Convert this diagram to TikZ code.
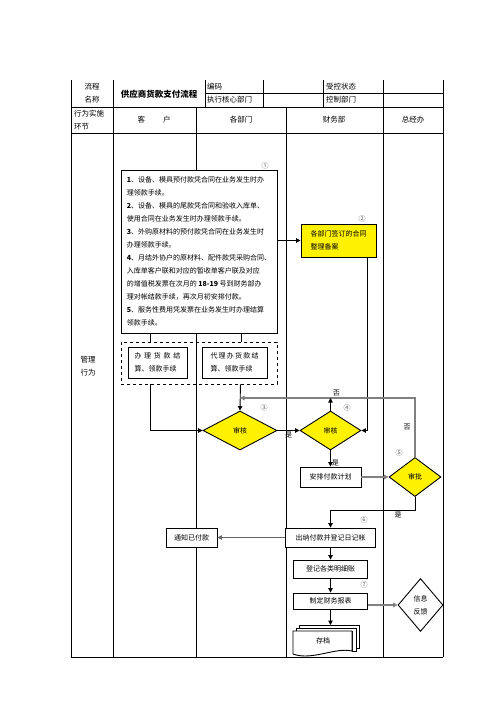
\documentclass[tikz,border=0pt]{standalone}
\usepackage{fontspec}
\setmainfont{Noto Sans CJK SC}
\usetikzlibrary{positioning, calc, shapes.geometric, arrows.meta}

\begin{document}
\begin{tikzpicture}[x=1pt,y=-1pt,
  every node/.style={inner sep=1pt, font=\fontsize{7}{13}\selectfont},
  hdr/.style={font=\fontsize{7.5}{13.5}\selectfont},
  box/.style={draw, fill=white, inner sep=0pt, line width=0.9pt},
  ybox/.style={box, fill=yellow},
  dia/.style={diamond, draw, fill=yellow, inner sep=0pt, line width=0.9pt},
  num/.style={font=\fontsize{7}{8}\selectfont, text=black!65},
  flow/.style={-{Triangle[length=4.5pt,width=4.5pt]}, line width=0.9pt},
  back/.style={flow, draw=black!50, line width=1.6pt},
  grid/.style={line width=1pt}]
  \useasboundingbox (0,0) rectangle (496,702);
  \draw[grid] (71,80) -- (71,657) (113,80) -- (113,657) (383,80) -- (383,657) (443,80) -- (443,657);
  \draw[grid] (205,80) -- (205,107) (263,80) -- (263,107) (323,80) -- (323,107);
  \draw[grid] (196,107) -- (196,657) (286,107) -- (286,657);
  \draw[grid] (205,93.5) -- (443,93.5) (71,107) -- (443,107) (71,133) -- (443,133) (71,657) -- (443,657);

  \node[hdr, align=center] (procname) at (92,93) {流程\\名称};
  \node[font=\fontsize{8.5}{10}\selectfont\bfseries] (title) at (159,94) {供应商货款支付流程};
  \node[hdr, anchor=west] (code) at (206,86.5) {编码};
  \node[hdr, anchor=west] (exec) at (206,100) {执行核心部门};
  \node[hdr, anchor=west] (state) at (325,86.5) {受控状态};
  \node[hdr, anchor=west] (ctrl) at (325,100) {控制部门};
  \node[hdr, anchor=west, align=left] (stage) at (73,120) {行为实施\\环节};
  \node[hdr] (client) at (154,120) {客\hspace{18pt}户};
  \node[hdr] (depts) at (241,120) {各部门};
  \node[hdr] (finance) at (334,120) {财务部};
  \node[hdr] (gmo) at (413,120) {总经办};
  \node[hdr, align=center] (mgmt) at (88,366) {管理\\行为};

  \node[box, minimum width=156, minimum height=163, align=left] (rules) at (199,251.5) {%
    \textbf{1}、设备、模具预付款凭合同在业务发生时办\\
    理领款手续。\\
    \textbf{2}、设备、模具的尾款凭合同和验收入库单、\\
    使用合同在业务发生时办理领款手续。\\
    \textbf{3}、外购原材料的预付款凭合同在业务发生时\\
    办理领款手续。\\
    \textbf{4}、月结外协户的原材料、配件款凭采购合同、\\
    入库单客户联和对应的暂收单客户联及对应\\
    的增值税发票在次月的 \textbf{18-19} 号到财务部办\\
    理对帐结款手续，再次月初安排付款。\\
    \textbf{5}、服务性费用凭发票在业务发生时办理结算\\
    领款手续。};
  \node[ybox, minimum width=75, minimum height=33, align=left] (file) at (338.5,240.5) {各部门签订的合同\\整理备案};
  \node[draw, dashed, line width=0.9pt, minimum width=156, minimum height=42, inner sep=0pt] (group) at (199,363) {};
  \node[box, minimum width=59, minimum height=31, align=left] (selfpay) at (157.5,362.5) {\makebox[46pt]{办\hfill 理\hfill 货\hfill 款\hfill 结}\\算、领款手续};
  \node[box, minimum width=65, minimum height=31, align=left] (agentpay) at (234.5,362.5) {\makebox[48pt]{代\hfill 理\hfill 办\hfill 货\hfill 款\hfill 结}\\算、领款手续};

  \node[dia, minimum width=74, minimum height=39] (check1) at (240,430.5) {审核};
  \node[dia, minimum width=61, minimum height=39] (check2) at (330.5,430.5) {审核};
  \node[box, minimum width=61, minimum height=20] (plan) at (330.5,477) {安排付款计划};
  \node[dia, minimum width=52, minimum height=39] (approve) at (415,477) {审批};
  \node[box, minimum width=90, minimum height=19] (pay) at (330.5,537.5) {出纳付款并登记日记帐};
  \node[box, minimum width=51, minimum height=19] (notify) at (191.5,537.5) {通知已付款};
  \node[box, minimum width=74, minimum height=18] (ledger) at (330.5,569) {登记各类明细账};
  \node[box, minimum width=74, minimum height=16] (report) at (330.5,601) {制定财务报表};
  \node[diamond, draw, fill=white, line width=0.9pt, inner sep=0pt, minimum width=45, minimum height=53, align=center] (feedback) at (420.5,605) {信息\\反馈};

  \draw[line width=0.9pt, fill=white] (299,625) -- (359,625) -- (359,648) -- (352,648) -- (352,628) -- (299,628) -- cycle;
  \draw[line width=0.9pt, fill=white] (296,628) -- (356,628) -- (356,651) -- (352,651) -- (352,631) -- (296,631) -- cycle;
  \draw[line width=0.9pt, fill=white] (293,631) -- (352,631) -- (352,651) .. controls (335,647) and (312,661) .. (293,654) -- cycle;
  \node (archive) at (323,641) {存档};
  \coordinate (stack) at (330.5,625);
  \coordinate (merge) at (240,398);

  \draw[line width=0.9pt] ([xshift=30pt]rules.south west) -- ([xshift=30pt]group.north west);
  \draw[line width=0.9pt] ([xshift=-36pt]rules.south east) -- ([xshift=-36pt]group.north east);
  \draw[flow] (rules.east |- file.west) -- (file.west);
  \draw[flow] ([xshift=30pt]group.south west) |- (check1.west);
  \draw[flow] ([xshift=-37pt]group.south east) -- (check1.north);
  \draw[flow] (check1.east) -- node[below] {是} (check2.west);
  \draw[flow] ([xshift=-9pt]file.south east) |- (check2.east);
  \draw[back] (approve.north) -- (approve.north |- merge) -- node[pos=0.45, above] {否} (merge);
  \node (no2) at (407,427) {否};
  \draw[flow] (check2.north) -- (check2.north |- merge);
  \draw[flow] (check2.south) -- node[pos=0.8, right] {是} (plan.north);
  \draw[back] (plan.east) -- (approve.west);
  \draw[flow] (approve.south) -- ++(0,13) -| node[pos=0.1, below] {是} (pay.north);
  \draw[flow, draw=black!60] (pay.west) -- (notify.east);
  \draw[flow] (pay.south) -- (ledger.north);
  \draw[flow] (ledger.south) -- (report.north);
  \draw[back] (report.east |- feedback.west) -- (feedback.west);
  \draw[flow] (report.south) -- (stack);

  \node[num] (n1) at (265,166) {①};
  \node[num] (n2) at (362,219) {②};
  \node[num] (n3) at (264,408) {③};
  \node[num] (n4) at (347,408) {④};
  \node[num] (n5) at (399,453) {⑤};
  \node[num] (n6) at (364,520) {⑥};
  \node[num] (n7) at (364,585) {⑦};
\end{tikzpicture}
\end{document}
